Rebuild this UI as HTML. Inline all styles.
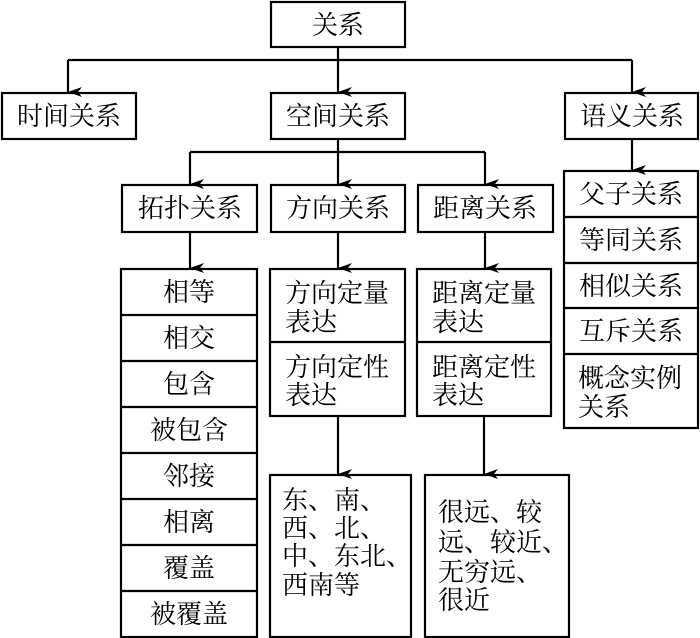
<!DOCTYPE html>
<html><head><meta charset="utf-8"><style>
html,body{margin:0;padding:0;background:#fff;}
svg{display:block}
text{font-family:"Liberation Serif","Noto Serif CJK SC",serif;font-size:26px;fill:#000}
</style></head><body>
<svg width="700" height="638" viewBox="0 0 700 638" xmlns="http://www.w3.org/2000/svg">
<defs><marker id="a" markerWidth="10" markerHeight="14" refX="5" refY="14" orient="auto-start-reverse" markerUnits="userSpaceOnUse"><path d="M0,0 L5,14 L10,0 L5,4 Z" fill="#000"/></marker></defs>
<g fill="none" stroke="#000" stroke-width="2.2">
<!-- boxes -->
<rect x="271" y="2" width="134" height="45"/>
<rect x="2" y="93" width="134" height="46"/>
<rect x="271" y="93" width="134" height="46"/>
<rect x="565" y="93" width="133" height="46"/>
<rect x="122" y="185" width="135" height="47"/>
<rect x="271" y="185" width="134" height="47"/>
<rect x="418" y="185" width="135" height="47"/>
<!-- topo list -->
<rect x="121" y="269" width="136" height="368"/>
<path d="M121 315H257M121 361H257M121 407H257M121 453H257M121 499H257M121 545H257M121 591H257"/>
<!-- direction list -->
<rect x="270" y="269" width="135" height="147"/>
<path d="M270 342H405"/>
<rect x="417" y="269" width="134" height="147"/>
<path d="M417 342H551"/>
<rect x="270" y="475" width="141" height="162"/>
<rect x="425" y="475" width="144" height="162"/>
<!-- semantic list -->
<rect x="564" y="171" width="134" height="257"/>
<path d="M564 217H698M564 263H698M564 308H698M564 354H698"/>
<!-- connectors -->
<path d="M338 47V60M68 60H632"/>
<path d="M68 60V92" marker-end="url(#a)"/>
<path d="M338 60V92" marker-end="url(#a)"/>
<path d="M632 60V92" marker-end="url(#a)"/>
<path d="M338 139V152M190 152H485"/>
<path d="M190 152V184" marker-end="url(#a)"/>
<path d="M338 152V184" marker-end="url(#a)"/>
<path d="M485 152V184" marker-end="url(#a)"/>
<path d="M632 139V170" marker-end="url(#a)"/>
<path d="M190 232V268" marker-end="url(#a)"/>
<path d="M338 232V268" marker-end="url(#a)"/>
<path d="M485 232V268" marker-end="url(#a)"/>
<path d="M338 416V474" marker-end="url(#a)"/>
<path d="M484 416V474" marker-end="url(#a)"/>
</g>
<g text-anchor="middle">
<text x="338" y="34">关系</text>
<text x="69" y="125">时间关系</text>
<text x="338" y="125">空间关系</text>
<text x="632" y="125">语义关系</text>
<text x="190" y="217">拓扑关系</text>
<text x="338" y="217">方向关系</text>
<text x="485" y="217">距离关系</text>
<text x="189" y="301">相等</text>
<text x="189" y="347">相交</text>
<text x="189" y="393">包含</text>
<text x="189" y="439">被包含</text>
<text x="189" y="485">邻接</text>
<text x="189" y="531">相离</text>
<text x="189" y="577">覆盖</text>
<text x="189" y="623">被覆盖</text>
<text x="631" y="203">父子关系</text>
<text x="631" y="249">等同关系</text>
<text x="631" y="295">相似关系</text>
<text x="631" y="340">互斥关系</text>
</g>
<g>
<text x="285" y="302">方向定量</text>
<text x="285" y="331">表达</text>
<text x="285" y="376">方向定性</text>
<text x="285" y="404">表达</text>
<text x="432" y="302">距离定量</text>
<text x="432" y="331">表达</text>
<text x="432" y="376">距离定性</text>
<text x="432" y="404">表达</text>
<text x="282" y="509">东、南、</text>
<text x="282" y="537">西、北、</text>
<text x="282" y="565">中、东北、</text>
<text x="282" y="594">西南等</text>
<text x="438" y="521">很远、较</text>
<text x="438" y="551">远、较近、</text>
<text x="438" y="581">无穷远、</text>
<text x="438" y="609">很近</text>
<text x="578" y="387">概念实例</text>
<text x="578" y="416">关系</text>
</g>
</svg>
</body></html>
